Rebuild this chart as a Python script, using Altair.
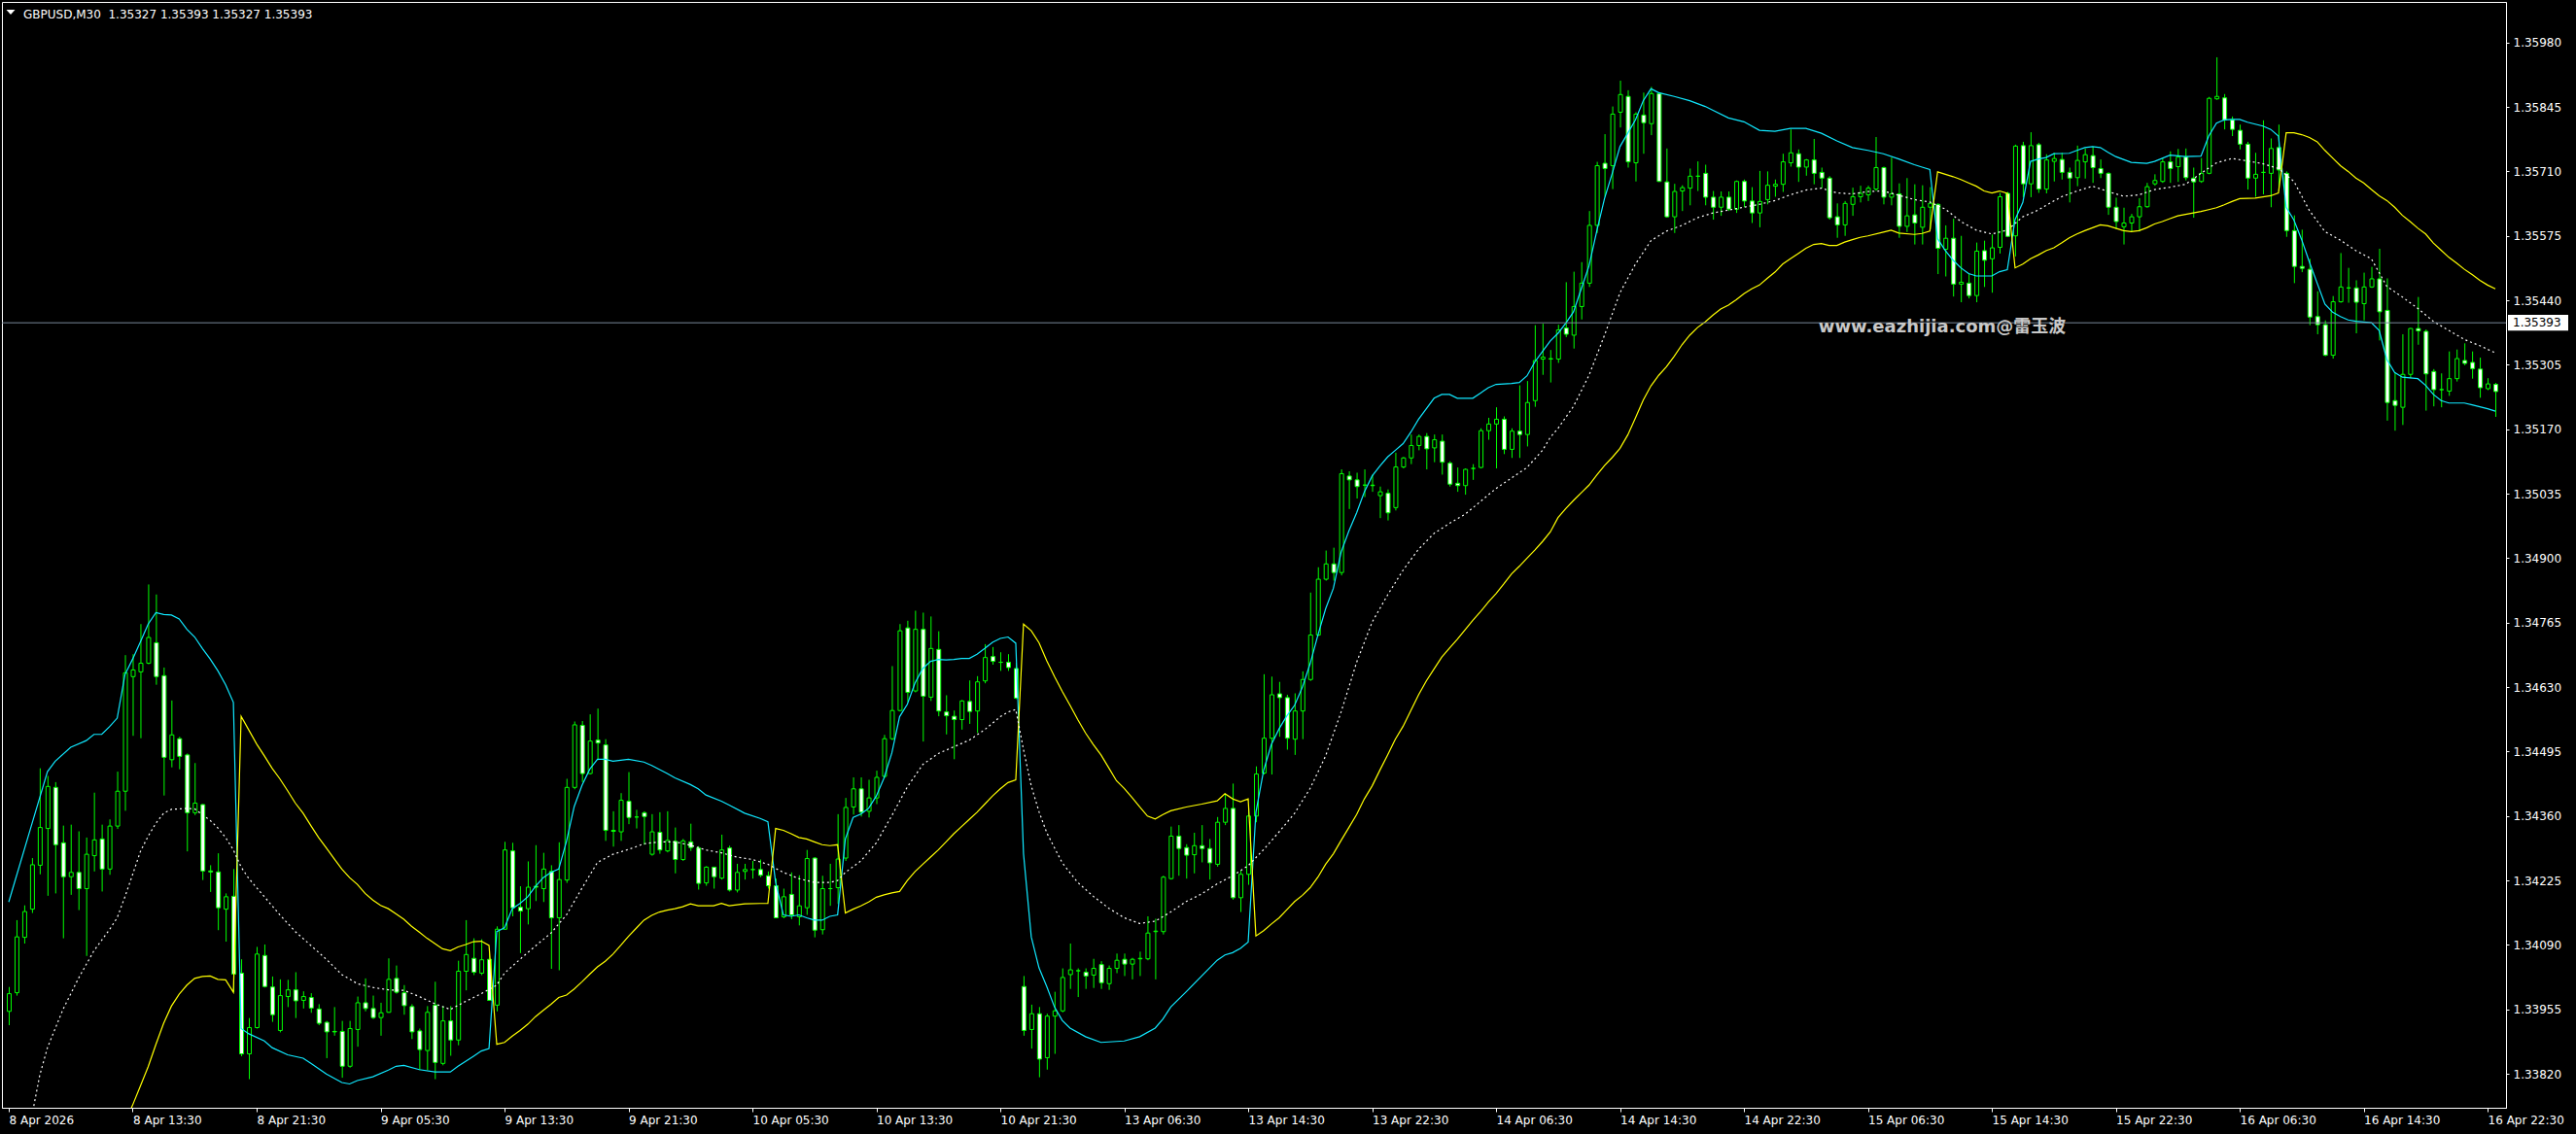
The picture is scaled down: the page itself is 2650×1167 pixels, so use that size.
import altair as alt
import pandas as pd

# ---------------- data (GBPUSD M30, prices) ----------------
opens = [
    1.33951, 1.33990, 1.34106, 1.34165, 1.34257, 1.34334, 1.34420, 1.34304, 1.34233, 1.34242,
    1.34208, 1.34277, 1.34312, 1.34249, 1.34339, 1.34412, 1.34652, 1.34662, 1.34680, 1.34723,
    1.34654, 1.34478, 1.34522, 1.34488, 1.34367, 1.34384, 1.34245, 1.34243, 1.34165, 1.34192,
    1.34031, 1.33862, 1.33917, 1.34068, 1.34002, 1.33911, 1.33982, 1.33996, 1.33974, 1.33980,
    1.33956, 1.33928, 1.33909, 1.33909, 1.33836, 1.33913, 1.33969, 1.33957, 1.33938, 1.33949,
    1.34020, 1.33990, 1.33961, 1.33910, 1.33869, 1.33964, 1.33842, 1.33931, 1.33891, 1.34035,
    1.34062, 1.34031, 1.34060, 1.33964, 1.34123, 1.34287, 1.34169, 1.34166, 1.34213, 1.34208,
    1.34244, 1.34147, 1.34226, 1.34420, 1.34550, 1.34449, 1.34519, 1.34509, 1.34330, 1.34327,
    1.34391, 1.34358, 1.34367, 1.34280, 1.34326, 1.34287, 1.34307, 1.34269, 1.34306, 1.34293,
    1.34220, 1.34253, 1.34230, 1.34293, 1.34205, 1.34244, 1.34248, 1.34248, 1.34235, 1.34214,
    1.34149, 1.34196, 1.34149, 1.34168, 1.34272, 1.34122, 1.34208, 1.34210, 1.34272, 1.34379,
    1.34417, 1.34370, 1.34398, 1.34443, 1.34522, 1.34581, 1.34754, 1.34622, 1.34751, 1.34609,
    1.34709, 1.34578, 1.34569, 1.34562, 1.34600, 1.34580, 1.34643, 1.34694, 1.34682, 1.34682,
    1.34669, 1.34003, 1.33913, 1.33946, 1.33854, 1.33941, 1.33952, 1.34028, 1.34036, 1.34033,
    1.34027, 1.34049, 1.34009, 1.34041, 1.34060, 1.34050, 1.34061, 1.34061, 1.34118, 1.34118,
    1.34229, 1.34318, 1.34294, 1.34279, 1.34298, 1.34292, 1.34259, 1.34347, 1.34376, 1.34189,
    1.34238, 1.34360, 1.34450, 1.34523, 1.34616, 1.34608, 1.34521, 1.34580, 1.34646, 1.34739,
    1.34856, 1.34888, 1.34870, 1.35072, 1.35064, 1.35053, 1.35053, 1.35031, 1.35036, 1.35006,
    1.35091, 1.35110, 1.35136, 1.35155, 1.35131, 1.35145, 1.35099, 1.35057, 1.35052, 1.35088,
    1.35090, 1.35167, 1.35181, 1.35191, 1.35128, 1.35166, 1.35159, 1.35230, 1.35317, 1.35317,
    1.35317, 1.35382, 1.35367, 1.35427, 1.35476, 1.35597, 1.35727, 1.35722, 1.35834, 1.35867,
    1.35728, 1.35828, 1.35810, 1.35873, 1.35688, 1.35615, 1.35669, 1.35675, 1.35700, 1.35706,
    1.35656, 1.35635, 1.35656, 1.35631, 1.35689, 1.35648, 1.35623, 1.35651, 1.35679, 1.35683,
    1.35728, 1.35747, 1.35719, 1.35734, 1.35708, 1.35696, 1.35615, 1.35598, 1.35641, 1.35657,
    1.35661, 1.35673, 1.35718, 1.35656, 1.35663, 1.35595, 1.35619, 1.35593, 1.35635, 1.35641,
    1.35547, 1.35570, 1.35474, 1.35476, 1.35450, 1.35544, 1.35527, 1.35551, 1.35664, 1.35575,
    1.35764, 1.35684, 1.35766, 1.35673, 1.35731, 1.35735, 1.35708, 1.35697, 1.35730, 1.35743,
    1.35716, 1.35706, 1.35635, 1.35594, 1.35602, 1.35615, 1.35636, 1.35684, 1.35689, 1.35730,
    1.35720, 1.35740, 1.35696, 1.35689, 1.35706, 1.35862, 1.35864, 1.35818, 1.35796, 1.35767,
    1.35696, 1.35708, 1.35706, 1.35760, 1.35706, 1.35586, 1.35511, 1.35505, 1.35406, 1.35389,
    1.35325, 1.35437, 1.35466, 1.35466, 1.35433, 1.35468, 1.35485, 1.35419, 1.35230, 1.35216,
    1.35285, 1.35381, 1.35375, 1.35291, 1.35253, 1.35250, 1.35276, 1.35314, 1.35310, 1.35296,
    1.35255, 1.35264,
]
highs = [
    1.34002, 1.34142, 1.34173, 1.34272, 1.34460, 1.34444, 1.34431, 1.34340, 1.34342, 1.34328,
    1.34315, 1.34409, 1.34342, 1.34353, 1.34453, 1.34697, 1.34699, 1.34762, 1.34845, 1.34824,
    1.34671, 1.34602, 1.34526, 1.34491, 1.34471, 1.34385, 1.34257, 1.34282, 1.34198, 1.34249,
    1.34060, 1.33937, 1.34086, 1.34091, 1.34024, 1.34018, 1.34017, 1.34033, 1.33993, 1.33989,
    1.33966, 1.33931, 1.33960, 1.33931, 1.33931, 1.33982, 1.34020, 1.33984, 1.33969, 1.34062,
    1.34047, 1.34006, 1.33966, 1.33915, 1.33962, 1.34013, 1.33962, 1.33962, 1.34057, 1.34142,
    1.34104, 1.34102, 1.34082, 1.34129, 1.34306, 1.34304, 1.34213, 1.34265, 1.34299, 1.34283,
    1.34257, 1.34305, 1.34438, 1.34558, 1.34559, 1.34573, 1.34585, 1.34521, 1.34370, 1.34408,
    1.34452, 1.34373, 1.34370, 1.34364, 1.34368, 1.34370, 1.34336, 1.34312, 1.34344, 1.34297,
    1.34255, 1.34253, 1.34321, 1.34298, 1.34260, 1.34260, 1.34266, 1.34269, 1.34244, 1.34229,
    1.34208, 1.34242, 1.34236, 1.34289, 1.34274, 1.34235, 1.34260, 1.34364, 1.34398, 1.34441,
    1.34441, 1.34436, 1.34455, 1.34530, 1.34674, 1.34762, 1.34769, 1.34790, 1.34786, 1.34778,
    1.34747, 1.34613, 1.34581, 1.34603, 1.34644, 1.34653, 1.34720, 1.34714, 1.34703, 1.34699,
    1.34681, 1.34025, 1.33965, 1.33960, 1.33946, 1.33992, 1.34041, 1.34093, 1.34041, 1.34041,
    1.34061, 1.34056, 1.34047, 1.34072, 1.34072, 1.34063, 1.34076, 1.34150, 1.34145, 1.34235,
    1.34338, 1.34341, 1.34301, 1.34325, 1.34341, 1.34312, 1.34358, 1.34407, 1.34428, 1.34246,
    1.34379, 1.34464, 1.34657, 1.34652, 1.34641, 1.34614, 1.34617, 1.34663, 1.34828, 1.34881,
    1.34916, 1.34922, 1.35086, 1.35082, 1.35079, 1.35086, 1.35075, 1.35050, 1.35044, 1.35121,
    1.35112, 1.35159, 1.35159, 1.35162, 1.35159, 1.35159, 1.35103, 1.35090, 1.35088, 1.35097,
    1.35172, 1.35194, 1.35216, 1.35197, 1.35172, 1.35262, 1.35271, 1.35388, 1.35391, 1.35336,
    1.35389, 1.35478, 1.35500, 1.35520, 1.35627, 1.35730, 1.35788, 1.35846, 1.35900, 1.35880,
    1.35834, 1.35875, 1.35887, 1.35875, 1.35758, 1.35684, 1.35681, 1.35716, 1.35731, 1.35724,
    1.35669, 1.35668, 1.35668, 1.35691, 1.35693, 1.35677, 1.35711, 1.35710, 1.35693, 1.35747,
    1.35798, 1.35756, 1.35736, 1.35778, 1.35718, 1.35700, 1.35643, 1.35648, 1.35676, 1.35680,
    1.35680, 1.35782, 1.35720, 1.35739, 1.35685, 1.35696, 1.35683, 1.35681, 1.35677, 1.35643,
    1.35597, 1.35611, 1.35575, 1.35496, 1.35561, 1.35565, 1.35578, 1.35665, 1.35667, 1.35766,
    1.35772, 1.35792, 1.35770, 1.35746, 1.35749, 1.35749, 1.35718, 1.35764, 1.35758, 1.35762,
    1.35735, 1.35708, 1.35655, 1.35634, 1.35621, 1.35654, 1.35686, 1.35704, 1.35738, 1.35752,
    1.35757, 1.35758, 1.35718, 1.35738, 1.35866, 1.35949, 1.35872, 1.35825, 1.35808, 1.35772,
    1.35749, 1.35817, 1.35779, 1.35808, 1.35710, 1.35618, 1.35588, 1.35527, 1.35459, 1.35398,
    1.35449, 1.35539, 1.35508, 1.35482, 1.35498, 1.35510, 1.35548, 1.35486, 1.35288, 1.35369,
    1.35382, 1.35447, 1.35379, 1.35296, 1.35287, 1.35333, 1.35337, 1.35350, 1.35333, 1.35320,
    1.35277, 1.35267,
]
lows = [
    1.33922, 1.33984, 1.34093, 1.34157, 1.34238, 1.34193, 1.34198, 1.34104, 1.34195, 1.34163,
    1.34067, 1.34244, 1.34202, 1.34237, 1.34333, 1.34371, 1.34528, 1.34523, 1.34678, 1.34635,
    1.34403, 1.34462, 1.34458, 1.34286, 1.34362, 1.34226, 1.34201, 1.34121, 1.34097, 1.33991,
    1.33857, 1.33809, 1.33915, 1.34001, 1.33929, 1.33907, 1.33960, 1.33937, 1.33957, 1.33948,
    1.33922, 1.33853, 1.33900, 1.33812, 1.33833, 1.33877, 1.33951, 1.33935, 1.33900, 1.33948,
    1.33988, 1.33944, 1.33893, 1.33828, 1.33828, 1.33809, 1.33838, 1.33858, 1.33880, 1.33995,
    1.34027, 1.34027, 1.33973, 1.33951, 1.34122, 1.34150, 1.34073, 1.34133, 1.34182, 1.34180,
    1.34040, 1.34037, 1.34220, 1.34416, 1.34431, 1.34447, 1.34477, 1.34308, 1.34296, 1.34308,
    1.34343, 1.34334, 1.34300, 1.34277, 1.34281, 1.34284, 1.34240, 1.34266, 1.34287, 1.34206,
    1.34214, 1.34208, 1.34227, 1.34202, 1.34200, 1.34227, 1.34229, 1.34232, 1.34208, 1.34146,
    1.34146, 1.34144, 1.34131, 1.34153, 1.34106, 1.34112, 1.34172, 1.34176, 1.34266, 1.34363,
    1.34359, 1.34357, 1.34385, 1.34440, 1.34519, 1.34579, 1.34599, 1.34619, 1.34516, 1.34601,
    1.34569, 1.34531, 1.34479, 1.34541, 1.34553, 1.34534, 1.34638, 1.34677, 1.34664, 1.34664,
    1.34605, 1.33900, 1.33873, 1.33813, 1.33829, 1.33862, 1.33949, 1.33998, 1.33981, 1.33998,
    1.34000, 1.33998, 1.33996, 1.34031, 1.34025, 1.34018, 1.34025, 1.34058, 1.34018, 1.34112,
    1.34227, 1.34235, 1.34229, 1.34240, 1.34263, 1.34227, 1.34254, 1.34341, 1.34185, 1.34159,
    1.34216, 1.34347, 1.34447, 1.34447, 1.34526, 1.34499, 1.34488, 1.34521, 1.34643, 1.34737,
    1.34853, 1.34853, 1.34864, 1.35003, 1.35025, 1.35028, 1.35039, 1.34984, 1.34979, 1.35000,
    1.35088, 1.35097, 1.35126, 1.35086, 1.35101, 1.35075, 1.35050, 1.35039, 1.35033, 1.35064,
    1.35088, 1.35148, 1.35088, 1.35118, 1.35110, 1.35110, 1.35134, 1.35217, 1.35284, 1.35268,
    1.35309, 1.35363, 1.35339, 1.35400, 1.35468, 1.35581, 1.35657, 1.35673, 1.35802, 1.35718,
    1.35689, 1.35747, 1.35786, 1.35688, 1.35613, 1.35581, 1.35627, 1.35639, 1.35669, 1.35639,
    1.35609, 1.35617, 1.35627, 1.35623, 1.35635, 1.35602, 1.35593, 1.35641, 1.35657, 1.35667,
    1.35720, 1.35688, 1.35701, 1.35683, 1.35675, 1.35609, 1.35571, 1.35575, 1.35617, 1.35645,
    1.35648, 1.35669, 1.35641, 1.35639, 1.35571, 1.35583, 1.35557, 1.35557, 1.35589, 1.35495,
    1.35490, 1.35448, 1.35436, 1.35444, 1.35436, 1.35468, 1.35456, 1.35538, 1.35573, 1.35532,
    1.35656, 1.35656, 1.35665, 1.35664, 1.35689, 1.35693, 1.35645, 1.35679, 1.35695, 1.35686,
    1.35696, 1.35619, 1.35589, 1.35557, 1.35584, 1.35584, 1.35634, 1.35680, 1.35686, 1.35686,
    1.35688, 1.35691, 1.35613, 1.35686, 1.35704, 1.35860, 1.35798, 1.35784, 1.35756, 1.35672,
    1.35657, 1.35662, 1.35635, 1.35669, 1.35573, 1.35476, 1.35499, 1.35388, 1.35369, 1.35323,
    1.35318, 1.35435, 1.35435, 1.35371, 1.35398, 1.35466, 1.35356, 1.35188, 1.35167, 1.35179,
    1.35277, 1.35347, 1.35209, 1.35218, 1.35216, 1.35240, 1.35270, 1.35304, 1.35276, 1.35236,
    1.35252, 1.35196,
]
closes = [
    1.33988, 1.34107, 1.34160, 1.34258, 1.34336, 1.34422, 1.34300, 1.34233, 1.34242, 1.34208,
    1.34280, 1.34310, 1.34249, 1.34339, 1.34412, 1.34660, 1.34666, 1.34680, 1.34734, 1.34652,
    1.34483, 1.34530, 1.34485, 1.34367, 1.34387, 1.34245, 1.34243, 1.34168, 1.34191, 1.34029,
    1.33862, 1.33917, 1.34071, 1.34003, 1.33944, 1.33984, 1.33996, 1.33973, 1.33982, 1.33958,
    1.33926, 1.33908, 1.33908, 1.33836, 1.33915, 1.33969, 1.33957, 1.33938, 1.33948, 1.34018,
    1.33991, 1.33963, 1.33908, 1.33871, 1.33949, 1.33844, 1.33931, 1.33891, 1.34035, 1.34070,
    1.34033, 1.34059, 1.33974, 1.34123, 1.34289, 1.34168, 1.34161, 1.34211, 1.34211, 1.34249,
    1.34147, 1.34227, 1.34420, 1.34551, 1.34449, 1.34517, 1.34513, 1.34330, 1.34328, 1.34393,
    1.34357, 1.34358, 1.34359, 1.34327, 1.34289, 1.34309, 1.34269, 1.34308, 1.34294, 1.34219,
    1.34253, 1.34233, 1.34289, 1.34205, 1.34242, 1.34248, 1.34248, 1.34236, 1.34214, 1.34147,
    1.34191, 1.34153, 1.34172, 1.34271, 1.34121, 1.34208, 1.34208, 1.34270, 1.34378, 1.34417,
    1.34368, 1.34398, 1.34441, 1.34522, 1.34581, 1.34748, 1.34619, 1.34751, 1.34611, 1.34711,
    1.34580, 1.34570, 1.34562, 1.34601, 1.34579, 1.34641, 1.34692, 1.34684, 1.34682, 1.34671,
    1.34607, 1.33911, 1.33946, 1.33851, 1.33941, 1.33952, 1.34022, 1.34038, 1.34036, 1.34025,
    1.34041, 1.34011, 1.34041, 1.34058, 1.34050, 1.34060, 1.34062, 1.34115, 1.34119, 1.34232,
    1.34318, 1.34292, 1.34278, 1.34298, 1.34292, 1.34262, 1.34347, 1.34376, 1.34189, 1.34238,
    1.34360, 1.34448, 1.34523, 1.34614, 1.34608, 1.34523, 1.34580, 1.34646, 1.34739, 1.34856,
    1.34888, 1.34870, 1.35077, 1.35064, 1.35050, 1.35053, 1.35052, 1.35039, 1.34995, 1.35091,
    1.35110, 1.35136, 1.35155, 1.35129, 1.35148, 1.35101, 1.35055, 1.35052, 1.35086, 1.35088,
    1.35167, 1.35181, 1.35191, 1.35128, 1.35166, 1.35159, 1.35226, 1.35314, 1.35321, 1.35318,
    1.35378, 1.35369, 1.35427, 1.35476, 1.35597, 1.35722, 1.35716, 1.35830, 1.35871, 1.35730,
    1.35830, 1.35812, 1.35873, 1.35689, 1.35615, 1.35668, 1.35676, 1.35700, 1.35700, 1.35656,
    1.35635, 1.35656, 1.35631, 1.35689, 1.35648, 1.35623, 1.35647, 1.35681, 1.35683, 1.35730,
    1.35749, 1.35719, 1.35734, 1.35706, 1.35696, 1.35613, 1.35598, 1.35643, 1.35657, 1.35664,
    1.35675, 1.35718, 1.35656, 1.35663, 1.35595, 1.35617, 1.35602, 1.35635, 1.35643, 1.35549,
    1.35570, 1.35474, 1.35478, 1.35450, 1.35543, 1.35524, 1.35550, 1.35657, 1.35574, 1.35763,
    1.35684, 1.35764, 1.35673, 1.35734, 1.35737, 1.35708, 1.35696, 1.35733, 1.35745, 1.35718,
    1.35706, 1.35635, 1.35605, 1.35602, 1.35615, 1.35636, 1.35678, 1.35691, 1.35730, 1.35716,
    1.35740, 1.35697, 1.35688, 1.35706, 1.35863, 1.35867, 1.35818, 1.35798, 1.35767, 1.35696,
    1.35704, 1.35708, 1.35758, 1.35713, 1.35586, 1.35511, 1.35507, 1.35405, 1.35389, 1.35325,
    1.35437, 1.35468, 1.35466, 1.35436, 1.35468, 1.35485, 1.35416, 1.35226, 1.35220, 1.35285,
    1.35381, 1.35376, 1.35286, 1.35253, 1.35253, 1.35276, 1.35318, 1.35308, 1.35297, 1.35257,
    1.35265, 1.35249,
]

# indicator lines: (bar index, price)
cyan_line = [
    (0, 1.34180), (3, 1.34344), (5, 1.34453), (6, 1.34475), (8, 1.34504), (10, 1.34518), (11, 1.34531),
    (12, 1.34531), (13, 1.34547), (14, 1.34565), (15, 1.34656), (16, 1.34689), (17, 1.34725), (18, 1.34762),
    (19, 1.34786), (20, 1.34782), (21, 1.34781), (22, 1.34773), (23, 1.34751), (24, 1.34735), (25, 1.34711),
    (26, 1.34689), (27, 1.34664), (28, 1.34635), (29, 1.34598), (30, 1.33915), (31, 1.33904), (33, 1.33889),
    (34, 1.33875), (36, 1.33860), (38, 1.33853), (39, 1.33842), (41, 1.33820), (43, 1.33802), (44, 1.33799),
    (45, 1.33806), (47, 1.33814), (49, 1.33828), (50, 1.33836), (51, 1.33838), (53, 1.33829), (55, 1.33824),
    (57, 1.33824), (58, 1.33836), (60, 1.33857), (61, 1.33868), (62, 1.33873), (63, 1.34118), (64, 1.34126),
    (65, 1.34166), (66, 1.34177), (67, 1.34191), (68, 1.34213), (69, 1.34231), (70, 1.34242), (71, 1.34249),
    (72, 1.34307), (73, 1.34380), (74, 1.34424), (75, 1.34458), (76, 1.34479), (77, 1.34479), (78, 1.34475),
    (80, 1.34479), (82, 1.34473), (83, 1.34466), (85, 1.34449), (86, 1.34440), (88, 1.34426), (89, 1.34417),
    (90, 1.34404), (92, 1.34391), (93, 1.34383), (95, 1.34366), (97, 1.34355), (98, 1.34348), (99, 1.34221),
    (100, 1.34153), (101, 1.34150), (102, 1.34153), (103, 1.34147), (104, 1.34142), (105, 1.34142),
    (106, 1.34150), (107, 1.34153), (108, 1.34312), (109, 1.34357), (110, 1.34364), (111, 1.34376),
    (112, 1.34402), (113, 1.34440), (114, 1.34492), (115, 1.34568), (116, 1.34594), (117, 1.34639),
    (118, 1.34669), (119, 1.34684), (120, 1.34688), (121, 1.34687), (122, 1.34688), (123, 1.34690),
    (124, 1.34690), (125, 1.34699), (126, 1.34711), (127, 1.34724), (128, 1.34732), (129, 1.34735),
    (130, 1.34722), (131, 1.34281), (132, 1.34107), (133, 1.34042), (134, 1.34003), (135, 1.33960),
    (136, 1.33932), (137, 1.33916), (139, 1.33898), (141, 1.33886), (144, 1.33889), (146, 1.33898),
    (148, 1.33916), (149, 1.33935), (150, 1.33960), (152, 1.33992), (154, 1.34025), (156, 1.34058),
    (157, 1.34069), (158, 1.34074), (159, 1.34083), (160, 1.34096), (161, 1.34368), (162, 1.34456),
    (163, 1.34510), (164, 1.34543), (165, 1.34570), (166, 1.34592), (167, 1.34630), (168, 1.34679),
    (169, 1.34739), (170, 1.34794), (171, 1.34837), (172, 1.34913), (173, 1.34957), (174, 1.34995),
    (175, 1.35039), (176, 1.35072), (177, 1.35093), (178, 1.35112), (179, 1.35126), (180, 1.35140),
    (181, 1.35164), (182, 1.35191), (183, 1.35213), (184, 1.35235), (185, 1.35243), (186, 1.35243),
    (187, 1.35235), (189, 1.35235), (190, 1.35246), (191, 1.35257), (192, 1.35264), (194, 1.35266),
    (195, 1.35268), (196, 1.35282), (197, 1.35311), (198, 1.35333), (199, 1.35355), (200, 1.35371),
    (201, 1.35392), (202, 1.35416), (203, 1.35464), (204, 1.35512), (205, 1.35585), (206, 1.35653),
    (207, 1.35706), (208, 1.35762), (209, 1.35790), (210, 1.35818), (211, 1.35858), (212, 1.35883),
    (213, 1.35875), (215, 1.35867), (217, 1.35858), (219, 1.35846), (220, 1.35838), (222, 1.35822),
    (224, 1.35814), (226, 1.35796), (228, 1.35794), (230, 1.35800), (232, 1.35800), (234, 1.35790),
    (236, 1.35774), (238, 1.35760), (240, 1.35754), (242, 1.35747), (244, 1.35736), (246, 1.35724),
    (247, 1.35719), (248, 1.35714), (249, 1.35569), (250, 1.35544), (251, 1.35524), (252, 1.35508),
    (253, 1.35496), (254, 1.35491), (256, 1.35491), (257, 1.35500), (258, 1.35504), (259, 1.35609),
    (260, 1.35645), (261, 1.35731), (262, 1.35736), (263, 1.35739), (264, 1.35747), (266, 1.35748),
    (267, 1.35754), (268, 1.35760), (269, 1.35762), (270, 1.35760), (271, 1.35750), (272, 1.35741),
    (274, 1.35729), (276, 1.35727), (277, 1.35731), (279, 1.35744), (281, 1.35741), (283, 1.35742),
    (284, 1.35784), (285, 1.35811), (286, 1.35818), (287, 1.35819), (288, 1.35819), (289, 1.35813),
    (290, 1.35809), (291, 1.35805), (292, 1.35798), (293, 1.35784), (294, 1.35635), (295, 1.35608),
    (296, 1.35567), (297, 1.35520), (298, 1.35476), (299, 1.35432), (300, 1.35415), (301, 1.35406),
    (302, 1.35399), (303, 1.35396), (305, 1.35393), (306, 1.35377), (307, 1.35316), (308, 1.35289),
    (309, 1.35279), (311, 1.35276), (312, 1.35262), (313, 1.35243), (314, 1.35230), (315, 1.35225),
    (317, 1.35225), (318, 1.35221), (320, 1.35213), (321, 1.35208),
]
yellow_line = [
    (15, 1.33718), (16, 1.33755), (17, 1.33795), (18, 1.33835), (19, 1.33882), (20, 1.33926), (21, 1.33962),
    (22, 1.33987), (23, 1.34006), (24, 1.34020), (25, 1.34024), (26, 1.34025), (27, 1.34018), (28, 1.34017),
    (29, 1.33991), (30, 1.34569), (31, 1.34540), (32, 1.34511), (33, 1.34486), (34, 1.34460), (35, 1.34438),
    (36, 1.34413), (37, 1.34387), (38, 1.34366), (39, 1.34340), (40, 1.34315), (41, 1.34293), (42, 1.34271),
    (43, 1.34249), (44, 1.34231), (45, 1.34217), (46, 1.34198), (47, 1.34184), (48, 1.34173), (49, 1.34166),
    (50, 1.34155), (51, 1.34144), (52, 1.34129), (53, 1.34117), (54, 1.34104), (55, 1.34093), (56, 1.34082),
    (57, 1.34078), (58, 1.34086), (59, 1.34091), (60, 1.34097), (61, 1.34098), (62, 1.34089), (63, 1.33882),
    (64, 1.33886), (65, 1.33899), (66, 1.33911), (67, 1.33924), (68, 1.33940), (69, 1.33953), (70, 1.33966),
    (71, 1.33980), (72, 1.33985), (73, 1.33998), (74, 1.34013), (75, 1.34029), (76, 1.34044), (77, 1.34056),
    (78, 1.34071), (79, 1.34089), (80, 1.34108), (81, 1.34125), (82, 1.34142), (83, 1.34152), (84, 1.34159),
    (85, 1.34163), (86, 1.34166), (87, 1.34170), (88, 1.34176), (89, 1.34172), (91, 1.34172), (92, 1.34177),
    (93, 1.34172), (95, 1.34176), (97, 1.34177), (98, 1.34177), (99, 1.34334), (100, 1.34330), (101, 1.34323),
    (102, 1.34315), (103, 1.34312), (104, 1.34306), (105, 1.34300), (106, 1.34298), (107, 1.34300),
    (108, 1.34157), (109, 1.34165), (110, 1.34172), (111, 1.34180), (112, 1.34190), (113, 1.34195),
    (114, 1.34199), (115, 1.34202), (116, 1.34225), (117, 1.34244), (118, 1.34259), (119, 1.34274),
    (120, 1.34289), (121, 1.34306), (122, 1.34323), (123, 1.34338), (124, 1.34353), (125, 1.34368),
    (126, 1.34385), (127, 1.34402), (128, 1.34417), (129, 1.34430), (130, 1.34436), (131, 1.34762),
    (132, 1.34748), (133, 1.34723), (134, 1.34685), (135, 1.34652), (136, 1.34621), (137, 1.34592),
    (138, 1.34562), (139, 1.34534), (140, 1.34510), (141, 1.34488), (142, 1.34461), (143, 1.34434),
    (144, 1.34418), (145, 1.34399), (146, 1.34379), (147, 1.34360), (148, 1.34354), (149, 1.34363),
    (150, 1.34371), (152, 1.34379), (154, 1.34385), (156, 1.34392), (157, 1.34407), (158, 1.34396),
    (159, 1.34390), (160, 1.34396), (161, 1.34109), (162, 1.34120), (163, 1.34134), (164, 1.34147),
    (165, 1.34164), (166, 1.34181), (167, 1.34194), (168, 1.34210), (169, 1.34232), (170, 1.34259),
    (171, 1.34281), (172, 1.34309), (173, 1.34336), (174, 1.34363), (175, 1.34396), (176, 1.34423),
    (177, 1.34456), (178, 1.34488), (179, 1.34521), (180, 1.34548), (181, 1.34581), (182, 1.34614),
    (183, 1.34643), (184, 1.34668), (185, 1.34693), (186, 1.34712), (187, 1.34730), (188, 1.34750),
    (189, 1.34770), (190, 1.34788), (191, 1.34808), (192, 1.34826), (193, 1.34846), (194, 1.34867),
    (195, 1.34883), (196, 1.34900), (197, 1.34917), (198, 1.34935), (199, 1.34955), (200, 1.34985),
    (201, 1.35004), (202, 1.35021), (203, 1.35037), (204, 1.35053), (205, 1.35074), (206, 1.35094),
    (207, 1.35111), (208, 1.35130), (209, 1.35158), (210, 1.35194), (211, 1.35231), (212, 1.35261),
    (213, 1.35283), (214, 1.35301), (215, 1.35323), (216, 1.35347), (217, 1.35367), (218, 1.35383),
    (219, 1.35395), (220, 1.35409), (221, 1.35422), (222, 1.35430), (223, 1.35441), (224, 1.35454),
    (225, 1.35464), (226, 1.35472), (227, 1.35486), (228, 1.35499), (229, 1.35516), (230, 1.35527),
    (231, 1.35538), (232, 1.35549), (233, 1.35557), (234, 1.35559), (235, 1.35555), (236, 1.35555),
    (237, 1.35562), (238, 1.35567), (239, 1.35572), (240, 1.35575), (242, 1.35583), (243, 1.35587),
    (244, 1.35581), (246, 1.35578), (247, 1.35580), (248, 1.35585), (249, 1.35709), (250, 1.35704),
    (251, 1.35699), (252, 1.35693), (253, 1.35686), (254, 1.35679), (255, 1.35669), (256, 1.35665),
    (257, 1.35669), (258, 1.35664), (259, 1.35508), (260, 1.35516), (261, 1.35527), (262, 1.35535),
    (263, 1.35544), (264, 1.35550), (265, 1.35560), (266, 1.35571), (267, 1.35579), (268, 1.35586),
    (269, 1.35592), (270, 1.35598), (271, 1.35596), (272, 1.35591), (273, 1.35586), (274, 1.35584),
    (275, 1.35586), (276, 1.35592), (277, 1.35600), (278, 1.35605), (279, 1.35611), (280, 1.35617),
    (282, 1.35623), (283, 1.35626), (284, 1.35630), (285, 1.35634), (286, 1.35640), (287, 1.35647),
    (288, 1.35653), (290, 1.35654), (292, 1.35659), (293, 1.35665), (294, 1.35791), (295, 1.35791),
    (296, 1.35787), (297, 1.35781), (298, 1.35772), (299, 1.35754), (300, 1.35738), (301, 1.35722),
    (302, 1.35710), (303, 1.35696), (304, 1.35686), (305, 1.35672), (306, 1.35659), (307, 1.35649),
    (308, 1.35635), (309, 1.35618), (310, 1.35605), (311, 1.35591), (312, 1.35579), (313, 1.35560),
    (314, 1.35545), (315, 1.35530), (316, 1.35518), (317, 1.35505), (318, 1.35494), (319, 1.35482),
    (320, 1.35472), (321, 1.35464),
]
mid_line = [
    (3, 1.33733), (4, 1.33817), (5, 1.33875), (7, 1.33955), (9, 1.34020), (11, 1.34078), (13, 1.34122),
    (14, 1.34147), (15, 1.34191), (16, 1.34238), (17, 1.34286), (18, 1.34318), (19, 1.34345), (20, 1.34366),
    (21, 1.34374), (23, 1.34376), (24, 1.34375), (26, 1.34351), (27, 1.34335), (28, 1.34315), (29, 1.34289),
    (30, 1.34253), (31, 1.34229), (33, 1.34191), (35, 1.34153), (37, 1.34118), (39, 1.34089), (41, 1.34060),
    (43, 1.34028), (45, 1.34009), (47, 1.34001), (49, 1.33996), (51, 1.33995), (53, 1.33982), (55, 1.33967),
    (57, 1.33955), (59, 1.33972), (61, 1.33988), (63, 1.34006), (64, 1.34031), (66, 1.34060), (68, 1.34088),
    (70, 1.34115), (72, 1.34153), (74, 1.34209), (76, 1.34263), (78, 1.34280), (80, 1.34290), (82, 1.34302),
    (84, 1.34306), (86, 1.34306), (88, 1.34299), (90, 1.34289), (92, 1.34283), (94, 1.34274), (96, 1.34269),
    (98, 1.34259), (100, 1.34242), (102, 1.34229), (104, 1.34221), (106, 1.34221), (107, 1.34225),
    (108, 1.34242), (110, 1.34266), (112, 1.34304), (114, 1.34361), (116, 1.34421), (118, 1.34468),
    (120, 1.34491), (122, 1.34505), (124, 1.34519), (126, 1.34541), (128, 1.34568), (129, 1.34578),
    (130, 1.34583), (131, 1.34499), (132, 1.34423), (133, 1.34369), (134, 1.34325), (136, 1.34262),
    (138, 1.34221), (140, 1.34192), (142, 1.34167), (144, 1.34147), (146, 1.34135), (148, 1.34140),
    (150, 1.34159), (152, 1.34181), (154, 1.34197), (156, 1.34218), (158, 1.34235), (160, 1.34256),
    (162, 1.34290), (164, 1.34327), (166, 1.34366), (168, 1.34418), (170, 1.34486), (172, 1.34578),
    (174, 1.34682), (176, 1.34766), (178, 1.34823), (180, 1.34875), (182, 1.34919), (184, 1.34952),
    (186, 1.34973), (188, 1.34992), (190, 1.35019), (192, 1.35046), (194, 1.35068), (196, 1.35090),
    (198, 1.35126), (199, 1.35153), (200, 1.35172), (202, 1.35218), (204, 1.35283), (206, 1.35367),
    (208, 1.35456), (210, 1.35516), (212, 1.35565), (214, 1.35585), (216, 1.35597), (218, 1.35613),
    (220, 1.35623), (222, 1.35629), (224, 1.35635), (226, 1.35641), (228, 1.35649), (230, 1.35661),
    (232, 1.35671), (234, 1.35675), (236, 1.35665), (238, 1.35663), (240, 1.35668), (242, 1.35669),
    (244, 1.35660), (246, 1.35651), (248, 1.35646), (250, 1.35631), (252, 1.35605), (254, 1.35587),
    (256, 1.35579), (258, 1.35587), (260, 1.35615), (262, 1.35629), (263, 1.35639), (265, 1.35657),
    (267, 1.35669), (269, 1.35679), (271, 1.35668), (273, 1.35658), (275, 1.35661), (277, 1.35672),
    (279, 1.35677), (281, 1.35683), (283, 1.35706), (285, 1.35728), (287, 1.35737), (289, 1.35732),
    (291, 1.35726), (293, 1.35716), (295, 1.35689), (297, 1.35628), (299, 1.35584), (301, 1.35566),
    (303, 1.35544), (305, 1.35527), (307, 1.35469), (309, 1.35447), (311, 1.35423), (313, 1.35396),
    (315, 1.35377), (317, 1.35358), (319, 1.35345), (321, 1.35330),
]

x_tick_bars = list(range(0, 321, 16))
x_tick_labels = [
    "8 Apr 2026", "8 Apr 13:30", "8 Apr 21:30", "9 Apr 05:30", "9 Apr 13:30", "9 Apr 21:30",
    "10 Apr 05:30", "10 Apr 13:30", "10 Apr 21:30", "13 Apr 06:30", "13 Apr 14:30", "13 Apr 22:30",
    "14 Apr 06:30", "14 Apr 14:30", "14 Apr 22:30", "15 Apr 06:30", "15 Apr 14:30", "15 Apr 22:30",
    "16 Apr 06:30", "16 Apr 14:30", "16 Apr 22:30",
]
y_tick_values = [
    1.33820, 1.33955, 1.34090, 1.34225, 1.34360, 1.34495, 1.34630, 1.34765, 1.34900,
    1.35035, 1.35170, 1.35305, 1.35440, 1.35575, 1.35710, 1.35845, 1.35980,
]
header_text = "GBPUSD,M30\u00a0\u00a01.35327 1.35393 1.35327 1.35393"
last_price = 1.35393
watermark = "www.eazhijia.com@雷玉波"

# ---------------- frames ----------------
n = len(opens)
candles = pd.DataFrame({
    "i": list(range(n)), "open": opens, "high": highs, "low": lows, "close": closes,
})
candles["body"] = ["#000000" if c >= o else "#ffffff" for o, c in zip(opens, closes)]

cyan_df = pd.DataFrame(cyan_line, columns=["i", "p"])
yellow_df = pd.DataFrame(yellow_line, columns=["i", "p"])
mid_df = pd.DataFrame(mid_line, columns=["i", "p"])
price_df = pd.DataFrame({"p": [last_price], "p_hi": [last_price + 0.000165], "p_lo": [last_price - 0.000165]})

W, H = 2576, 1138
FONT = "DejaVu Sans"
GREEN = "#00ff00"

xs = alt.Scale(domain=[-0.25, 321.75], nice=False, zero=False)
ys = alt.Scale(domain=[1.337491, 1.360649], nice=False, zero=False)

label_js = "[" + ",".join("'" + s + "'" for s in x_tick_labels) + "]"
x_axis = alt.Axis(
    values=x_tick_bars, labelExpr=label_js + "[round(datum.value / 16)]",
    orient="bottom", grid=False, title=None, tickSize=4, tickColor="white",
    domainColor="white", labelColor="white", labelFont=FONT, labelFontSize=12,
    labelAlign="left", labelBaseline="top", labelPadding=3, labelFlush=False,
    labelOverlap=False,
)
y_axis = alt.Axis(
    values=y_tick_values, format=".5f", orient="right", grid=False, title=None,
    tickSize=3, tickColor="white", domainColor="white", labelColor="white",
    labelFont=FONT, labelFontSize=12, labelAlign="left", labelBaseline="middle",
    labelPadding=4, labelFlush=False, labelOverlap=False,
)


def X(field="i"):
    return alt.X(f"{field}:Q", scale=xs, axis=x_axis, title=None)


def Y(field):
    return alt.Y(f"{field}:Q", scale=ys, axis=y_axis, title=None)


wicks = alt.Chart(candles).mark_rule(color=GREEN, strokeWidth=1, xOffset=0.5).encode(
    x=X(), y=Y("low"), y2="high:Q"
)
bodies = alt.Chart(candles).mark_bar(width=4, stroke=GREEN, strokeWidth=1, xOffset=0.5).encode(
    x=X(), y=Y("open"), y2="close:Q", fill=alt.Fill("body:N", scale=None)
)
cyan = alt.Chart(cyan_df).mark_line(color="#10e8ff", strokeWidth=1.2, clip=True).encode(
    x=X(), y=Y("p")
)
yellow = alt.Chart(yellow_df).mark_line(color="#ffff00", strokeWidth=1.2, clip=True).encode(
    x=X(), y=Y("p")
)
mid = alt.Chart(mid_df).mark_line(color="#ffffff", strokeWidth=1.2, strokeDash=[2, 3], clip=True).encode(
    x=X(), y=Y("p")
)
price_line = alt.Chart(price_df).mark_rule(color="#778899", strokeWidth=1).encode(y=Y("p"))
price_box = alt.Chart(price_df).mark_rect(color="#ffffff").encode(
    x=alt.value(W + 2), x2=alt.value(W + 64), y=Y("p_hi"), y2="p_lo:Q"
)
price_text = alt.Chart(price_df).mark_text(
    align="left", baseline="middle", color="#000000", font=FONT, fontSize=12
).encode(x=alt.value(W + 7), y=Y("p"), text=alt.value(f"{last_price:.5f}"))

wm = alt.Chart(price_df).mark_text(
    align="center", baseline="alphabetic", color="#c8c8c8", font=FONT + ", Noto Sans CJK SC",
    fontSize=18, fontWeight="bold"
).encode(x=alt.value(1996), y=alt.value(340), text=alt.value(watermark))

header = alt.Chart(price_df).mark_text(
    align="left", baseline="alphabetic", color="#ffffff", font=FONT, fontSize=12
).encode(x=alt.value(22), y=alt.value(17), text=alt.value(header_text))

tri = alt.Chart(price_df).mark_point(
    shape="M-1,-0.55L1,-0.55L0,0.55Z", filled=True, color="#ffffff", opacity=1, size=81, strokeWidth=0
).encode(x=alt.value(9), y=alt.value(10.5))

chart = alt.layer(
    wicks, bodies, cyan, yellow, mid, price_line, price_box, price_text, wm, header, tri
).properties(
    width=W, height=H, background="#000000",
    padding={"left": 2, "top": 2, "right": 72, "bottom": 27},
    autosize=alt.AutoSizeParams(type="none"),
).configure_view(stroke="#ffffff", strokeWidth=1)

chart.save("out.html", embed_options={"renderer": "svg", "actions": False})
